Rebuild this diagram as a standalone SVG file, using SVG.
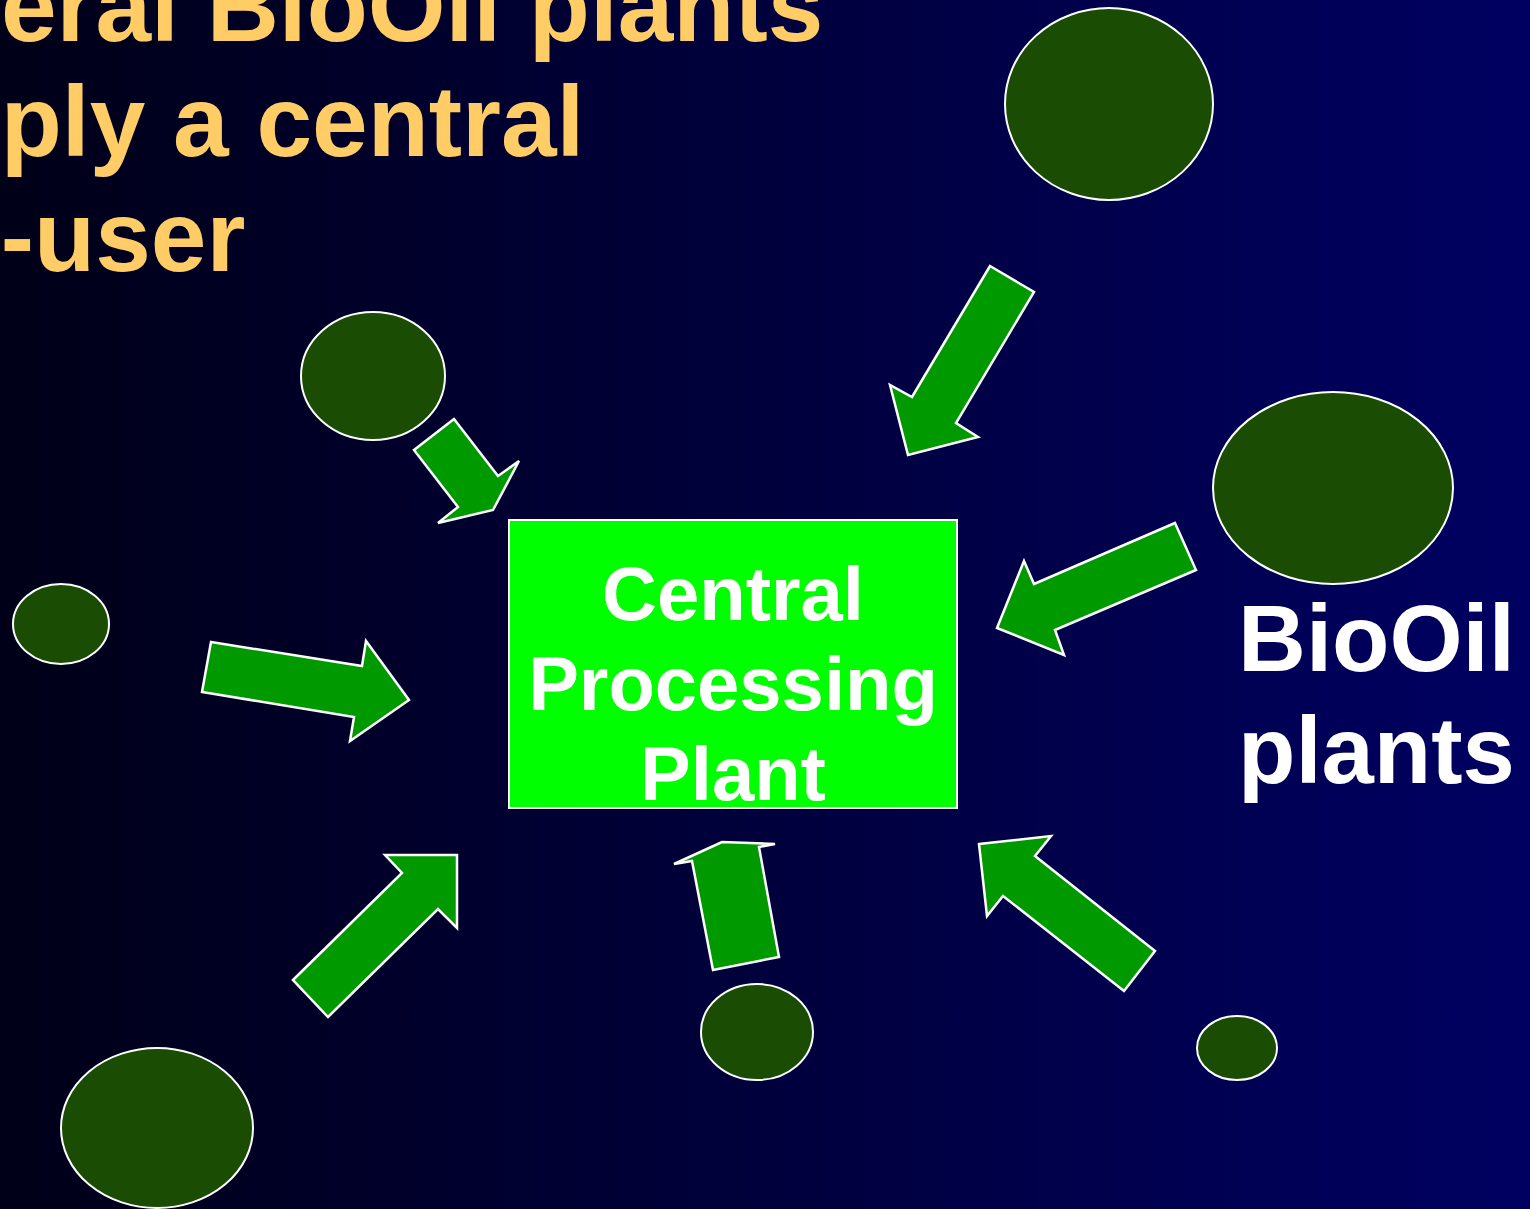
<svg xmlns="http://www.w3.org/2000/svg" width="1530" height="1209" viewBox="0 0 1530 1209">
<style>
.plant{fill:#1b4c04;stroke:#ffffff;stroke-width:2}
.arrow{fill:#009900;stroke:#ffffff;stroke-width:2.5;stroke-linejoin:miter}
.title{font-family:"Liberation Sans",Arial,sans-serif;font-weight:bold;font-size:100px;fill:#ffcc66}
.lbl{font-family:"Liberation Sans",Arial,sans-serif;font-weight:bold;fill:#ffffff}
</style>
<defs>
<linearGradient id="bg" x1="0" y1="0" x2="1" y2="0">
<stop offset="0" stop-color="#000018"/>
<stop offset="1" stop-color="#000062"/>
</linearGradient>
</defs>
<rect width="1530" height="1209" fill="url(#bg)"/>
<g id="title">
<text class="title" x="-177" y="41">Several BioOil plants</text>
<text class="title" x="-177" y="156">supply a central</text>
<text class="title" x="-177" y="271">end-user</text>
</g>
<g id="plant1"><ellipse class="plant" cx="1109" cy="104" rx="104" ry="96"/></g>
<g id="plant2"><ellipse class="plant" cx="373" cy="376" rx="72" ry="64"/></g>
<g id="plant3"><ellipse class="plant" cx="1333" cy="488" rx="120" ry="96"/></g>
<g id="plant4"><ellipse class="plant" cx="61" cy="624" rx="48" ry="40"/></g>
<g id="plant5"><ellipse class="plant" cx="157" cy="1128" rx="96" ry="80"/></g>
<g id="plant6"><ellipse class="plant" cx="757" cy="1032" rx="56" ry="48"/></g>
<g id="plant7"><ellipse class="plant" cx="1237" cy="1048" rx="40" ry="32"/></g>
<g id="central">
<rect x="509" y="520" width="448" height="288" fill="#00ff00" stroke="#ffffff" stroke-width="2"/>
<text class="lbl" font-size="76" text-anchor="middle" x="733" y="620">Central</text>
<text class="lbl" font-size="76" text-anchor="middle" x="733" y="710">Processing</text>
<text class="lbl" font-size="76" text-anchor="middle" x="733" y="800">Plant</text>
</g>
<g id="label-biooil">
<text class="lbl" font-size="94" x="1238" y="671">BioOil</text>
<text class="lbl" font-size="94" x="1238" y="783">plants</text>
</g>
<g id="connectors">
<polygon class="arrow" points="454,419 498,476 519,461 493,510 438,523 458,507 414,450"/>
<polygon class="arrow" points="990,266 1034,292 956,423 978,437 908,455 890,385 912,397"/>
<polygon class="arrow" points="1175,523 1196,570 1055,630 1064,655 997,628 1024,561 1034,584"/>
<polygon class="arrow" points="211,642 362,666 366,641 409,700 350,741 354,717 202,692"/>
<polygon class="arrow" points="293,980 402,873 385,855 457,855 457,928 438,909 328,1017"/>
<polygon class="arrow" points="674,864 722,842 775,844 759,847 779,957 713,970 692,861"/>
<polygon class="arrow" points="979,844 1051,836 1035,856 1155,951 1124,991 1003,896 987,916"/>
</g>
</svg>
